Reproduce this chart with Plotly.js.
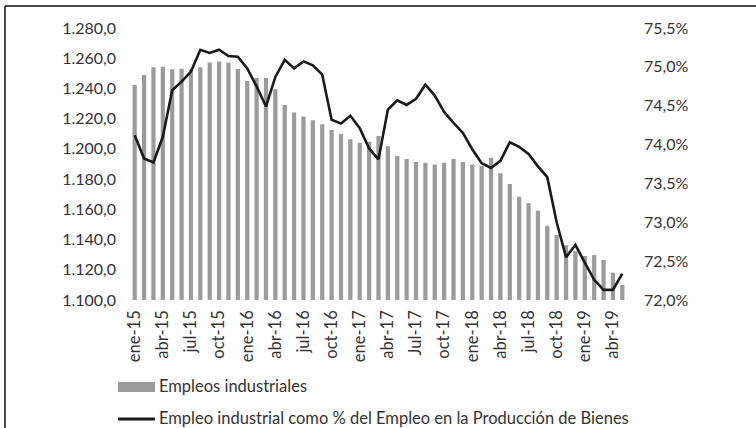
<!DOCTYPE html>
<html>
<head>
<meta charset="utf-8">
<script src="https://cdn.plot.ly/plotly-3.0.1.min.js"></script>
<style>
  html, body { margin: 0; padding: 0; background: #ffffff; }
  #chart { width: 756px; height: 428px; }
</style>
</head>
<body>
<div id="chart"></div>
<script>
// Monthly categories ene-15 .. may-19
const months = [
  "ene-15","feb-15","mar-15","abr-15","may-15","jun-15","jul-15","ago-15","sep-15","oct-15","nov-15","dic-15",
  "ene-16","feb-16","mar-16","abr-16","may-16","jun-16","jul-16","ago-16","sep-16","oct-16","nov-16","dic-16",
  "ene-17","feb-17","mar-17","abr-17","may-17","jun-17","Jul-17","ago-17","sep-17","oct-17","nov-17","dic-17",
  "ene-18","feb-18","mar-18","abr-18","may-18","jun-18","jul-18","ago-18","sep-18","oct-18","nov-18","dic-18",
  "ene-19","feb-19","mar-19","abr-19","may-19"
];

// Tick labels shown on the category axis (every third month)
const tickLabels = [
  "ene-15","abr-15","jul-15","oct-15","ene-16","abr-16","jul-16","oct-16","ene-17",
  "abr-17","Jul-17","oct-17","ene-18","abr-18","jul-18","oct-18","ene-19","abr-19"
];

// Empleos industriales (miles), left axis
const empleos = [
  1242.3, 1248.9, 1254.0, 1254.4, 1252.7, 1253.1, 1252.5, 1254.0, 1257.1, 1257.8, 1257.1, 1252.9,
  1244.9, 1246.9, 1246.9, 1239.4, 1229.0, 1224.0, 1221.5, 1218.9, 1216.3, 1212.5, 1209.9, 1206.3,
  1204.1, 1204.8, 1208.5, 1201.7, 1195.3, 1193.3, 1191.4, 1190.9, 1189.6, 1190.8, 1193.3, 1191.4,
  1189.6, 1188.7, 1194.1, 1183.9, 1176.8, 1168.4, 1164.0, 1159.0, 1149.2, 1143.0, 1136.2, 1132.2,
  1129.1, 1129.7, 1126.5, 1118.1, 1109.9
];

// Empleo industrial como % del Empleo en la Producción de Bienes, right axis
const porcentaje = [
  74.12, 73.82, 73.77, 74.10, 74.70, 74.81, 74.94, 75.22, 75.18, 75.22, 75.14, 75.13,
  74.98, 74.75, 74.49, 74.87, 75.09, 74.98, 75.07, 75.02, 74.90, 74.32, 74.27, 74.37,
  74.21, 73.95, 73.81, 74.45, 74.57, 74.51, 74.59, 74.77, 74.63, 74.42, 74.28, 74.15,
  73.94, 73.76, 73.70, 73.79, 74.03, 73.97, 73.88, 73.72, 73.58, 73.00, 72.55, 72.71,
  72.48, 72.26, 72.13, 72.13, 72.34
];

const seriesNames = [
  "Empleos industriales",
  "Empleo industrial como % del Empleo en la Producción de Bienes"
];

const FONT = "Lato, 'Open Sans', sans-serif";
const TXT = "#333333";
const BAR_COLOR = "#9b9b9b";
const LINE_COLOR = "#1a1a1a";

// plot-area geometry helpers (pixels -> paper)
const W = 756, H = 428;
const M = {l: 130, r: 129, t: 28, b: 128};
const PW = W - M.l - M.r, PH = H - M.t - M.b;
const px = x => (x - M.l) / PW;
const py = y => (H - M.b - y) / PH;

const traces = [
  {
    type: "bar",
    x: months,
    y: empleos,
    name: seriesNames[0],
    marker: {color: BAR_COLOR},
    yaxis: "y",
    hoverinfo: "x+y"
  },
  {
    type: "scatter",
    mode: "lines",
    x: months,
    y: porcentaje,
    name: seriesNames[1],
    line: {color: LINE_COLOR, width: 2.6},
    yaxis: "y2"
  }
];

const tickVals = months.filter((m, i) => i % 3 === 0);

const layout = {
  width: W,
  height: H,
  margin: M,
  paper_bgcolor: "#ffffff",
  plot_bgcolor: "#ffffff",
  separators: ",.",
  showlegend: false,
  bargap: 0.55,
  font: {family: FONT, color: TXT, size: 16},
  xaxis: {
    type: "category",
    categoryorder: "array",
    categoryarray: months,
    range: [-0.5, months.length - 0.5],
    tickmode: "array",
    tickvals: tickVals,
    ticktext: tickLabels,
    tickangle: -90,
    tickfont: {family: FONT, size: 16.5, color: TXT},
    showgrid: false,
    showline: false,
    zeroline: false,
    ticks: "",
    ticklabelstandoff: 6
  },
  yaxis: {
    range: [1100, 1280],
    dtick: 20,
    tick0: 1100,
    tickformat: ",.1f",
    tickfont: {family: FONT, size: 16, color: TXT},
    showgrid: false,
    showline: false,
    zeroline: false,
    ticks: "",
    ticklabelstandoff: 13
  },
  yaxis2: {
    overlaying: "y",
    side: "right",
    range: [72, 75.5],
    dtick: 0.5,
    tick0: 72,
    tickformat: ".1f",
    ticksuffix: "%",
    tickfont: {family: FONT, size: 16, color: TXT},
    showgrid: false,
    showline: false,
    zeroline: false,
    ticks: "",
    ticklabelstandoff: 16
  },
  shapes: [
    // outer frame (left and top edges)
    {type: "line", xref: "paper", yref: "paper", x0: px(5), x1: px(5), y0: py(6), y1: py(440),
     line: {color: "#111111", width: 1.5}},
    {type: "line", xref: "paper", yref: "paper", x0: px(5), x1: px(770), y0: py(6), y1: py(6),
     line: {color: "#111111", width: 1.5}},
    // legend swatches
    {type: "rect", xref: "paper", yref: "paper", x0: px(118), x1: px(155), y0: py(382), y1: py(392),
     fillcolor: BAR_COLOR, line: {width: 0}},
    {type: "line", xref: "paper", yref: "paper", x0: px(118), x1: px(155), y0: py(419), y1: py(419),
     line: {color: LINE_COLOR, width: 3}}
  ],
  annotations: [
    {xref: "paper", yref: "paper", x: px(157), y: py(386), xanchor: "left", yanchor: "middle",
     text: seriesNames[0], showarrow: false, font: {family: FONT, size: 16.5, color: TXT}},
    {xref: "paper", yref: "paper", x: px(157), y: py(418), xanchor: "left", yanchor: "middle",
     text: seriesNames[1], showarrow: false, font: {family: FONT, size: 16.5, color: TXT}}
  ]
};

Plotly.newPlot("chart", traces, layout, {displayModeBar: false, staticPlot: true});
</script>
</body>
</html>
